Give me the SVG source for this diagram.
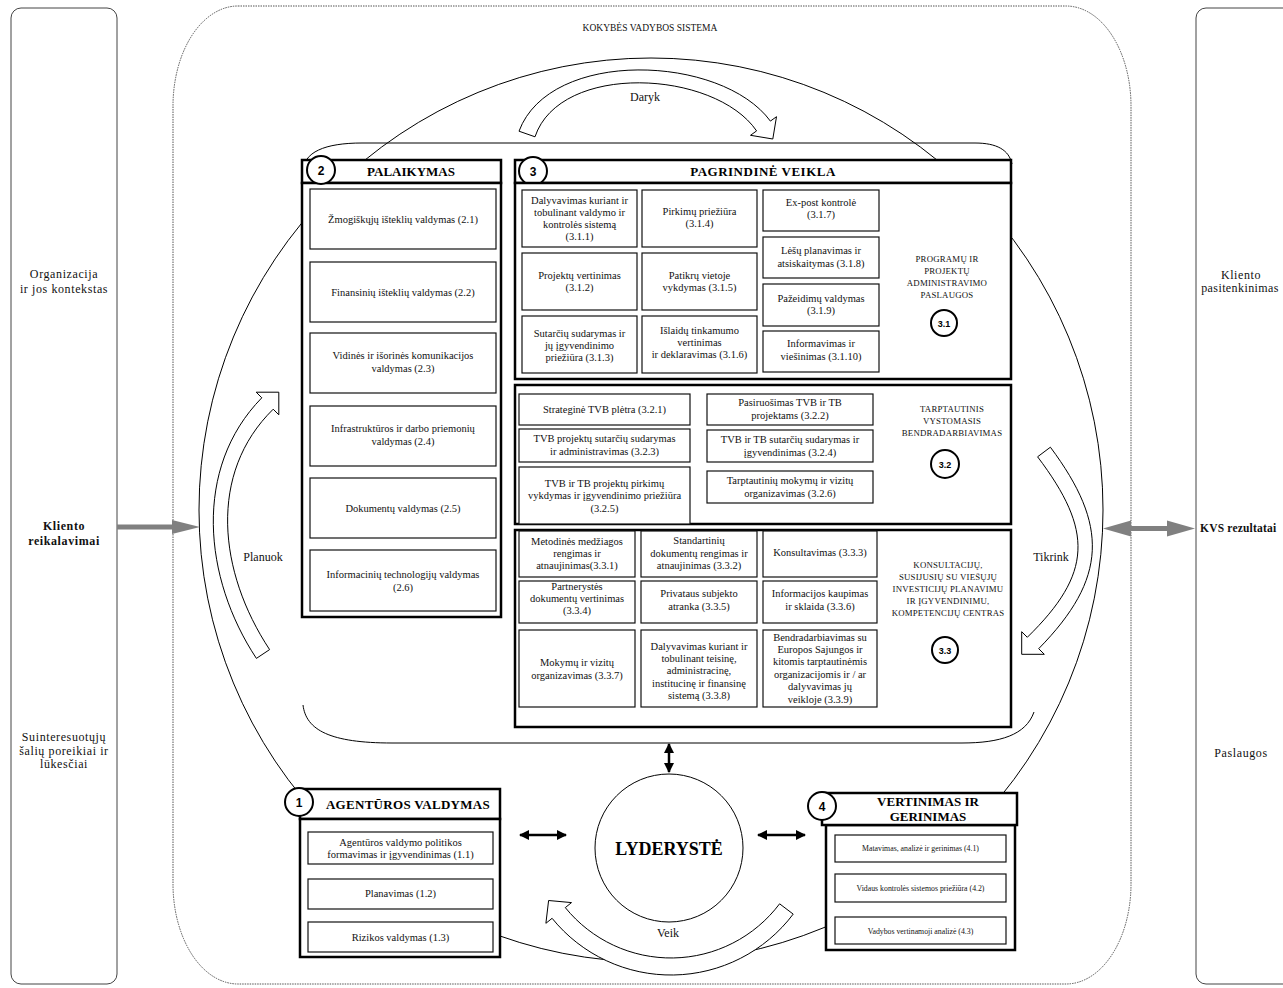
<svg xmlns="http://www.w3.org/2000/svg" width="1283" height="988" viewBox="0 0 1283 988">
<defs>
<style>
.t{font-family:"Liberation Serif","Times New Roman",serif;font-size:10.5px;fill:#111;text-anchor:middle}
.side{font-size:12px;letter-spacing:0.6px}
.h{font-weight:bold;font-size:13px;fill:#000}
.lab{font-size:8.8px;letter-spacing:0.2px}
.sm{font-size:7.8px}
.cl{font-size:12px}
.box{fill:#fff;stroke:#111;stroke-width:1.2}
.sec{fill:#fff;stroke:#000;stroke-width:2.5}
.nc{fill:#fff;stroke:#000;stroke-width:2}
.nt{font-family:"Liberation Sans",Arial,sans-serif;font-weight:bold;font-size:12px;text-anchor:middle;fill:#000}
.nts{font-size:9px}
.blk{fill:#fff;stroke:#000;stroke-width:1}
.thin{fill:none;stroke:#000;stroke-width:1}
.dbl{stroke:#000;stroke-width:2.5;fill:none;marker-start:url(#ah);marker-end:url(#ah)}
.gray{fill:#808080}
</style>
<marker id="ah" viewBox="0 0 10 10" refX="9" refY="5" markerWidth="10" markerHeight="10" markerUnits="userSpaceOnUse" orient="auto-start-reverse">
<path d="M0,0 L10,5 L0,10 z" fill="#000"/>
</marker>
</defs>
<rect width="1283" height="988" fill="#fff"/>

<!-- side panels -->
<g id="left-panel">
<rect x="11" y="8" width="106" height="976" rx="10" fill="#fff" stroke="#444" stroke-width="1"/>
<text class="t side" x="64" y="278">Organizacija</text>
<text class="t side" x="64" y="293">ir jos kontekstas</text>
<text class="t side" x="64" y="530" font-weight="bold">Kliento</text>
<text class="t side" x="64" y="545" font-weight="bold">reikalavimai</text>
<text class="t side" x="64" y="741">Suinteresuotųjų</text>
<text class="t side" x="64" y="755">šalių poreikiai ir</text>
<text class="t side" x="64" y="768">lūkesčiai</text>
</g>
<g id="right-panel">
<rect x="1196" y="8" width="110" height="976" rx="10" fill="#fff" stroke="#444" stroke-width="1"/>
<text class="t side" x="1241" y="279">Kliento</text>
<text class="t side" x="1240" y="292" style="letter-spacing:0.4px">pasitenkinimas</text>
<text class="t" x="1200" y="532" style="text-anchor:start;font-weight:bold;font-size:11.5px;letter-spacing:0.2px">KVS rezultatai</text>
<text class="t side" x="1241" y="757">Paslaugos</text>
</g>

<!-- KVS frame -->
<g id="kvs">
<path d="M238,6 H1066 A65,100 0 0 1 1131,106 V884 A65,100 0 0 1 1066,984 H238 A65,100 0 0 1 173,884 V106 A65,100 0 0 1 238,6 Z" fill="none" stroke="#555" stroke-width="1" stroke-dasharray="1.5,1"/>
<text class="t" x="650" y="31" style="font-size:9.5px">KOKYBĖS VADYBOS SISTEMA</text>
</g>

<!-- background cycle -->
<g id="cycle">
<circle cx="651" cy="510" r="452" class="thin"/>
<path d="M303,172 C303,152 325,143 362,143 H975 C997,143 1009,150 1012,164" class="thin"/>
<path d="M303,705 C306,730 330,743 392,743 H962 C1000,743 1026,735 1034,712" class="thin"/>
</g>

<g id="connectors">
<!-- Daryk -->
<path class="blk" d="M519,131.2 C550,48 721.4,54.4 770.4,121.1 L776.5,116.7 L772.8,139 L750.5,135.3 L756.6,130.9 C714.6,69.6 560,62 535,136.8 Z"/>
<!-- Planuok -->
<path class="blk" d="M256.4,658.4 C203.4,578.2 192.7,468.3 261.8,397.8 L256.2,392.2 L278.8,392.2 L278.8,414.8 L273.2,409.2 C207.9,473.1 218.2,571.8 269.6,649.6 Z"/>
<!-- Tikrink -->
<path class="blk" d="M1050.4,447.2 C1108.5,525.2 1107.8,578.2 1038.7,648.7 L1044.3,654.3 L1021.7,654.3 L1021.7,631.7 L1027.3,637.3 C1092.6,573.4 1093.5,530.8 1037.6,456.8 Z"/>
<!-- Veik -->
<path class="blk" d="M793.2,914.1 A153,153 0 0 1 552.1,918.3 L545.9,923.3 L548.6,900.5 L571.5,902.6 L565.3,907.6 A136,136 0 0 0 779.6,903.8 Z"/>
<!-- leadership arrows -->
<line class="dbl" x1="669" y1="744" x2="669" y2="772"/>
<line class="dbl" x1="520" y1="835" x2="566" y2="835"/>
<line class="dbl" x1="758" y1="835" x2="805" y2="835"/>
<!-- gray arrows -->
<rect class="gray" x="117" y="524.5" width="58" height="5"/>
<polygon class="gray" points="172,520 200,527 172,534"/>
<rect class="gray" x="1128" y="526" width="42" height="5"/>
<polygon class="gray" points="1131,520.5 1103,528.5 1131,536.5"/>
<polygon class="gray" points="1167,520.5 1195,528.5 1167,536.5"/>
</g>
<g id="cycle-labels">
<text class="t cl" x="645" y="101">Daryk</text>
<text class="t cl" x="263" y="561">Planuok</text>
<text class="t cl" x="1051" y="561">Tikrink</text>
<text class="t cl" x="668" y="937">Veik</text>
</g>

<!-- Section 2 -->
<g id="palaikymas">
<rect class="sec" x="302" y="160" width="199" height="23"/>
<rect class="sec" x="302" y="183" width="199" height="434"/>
<text class="t h" x="411" y="176">PALAIKYMAS</text>
<circle class="nc" cx="321" cy="170" r="14"/>
<text class="nt" x="321" y="174.5">2</text>
<rect class="box" x="310" y="189" width="186" height="60"/>
<text class="t" x="403" y="223">Žmogiškųjų išteklių valdymas (2.1)</text>
<rect class="box" x="310" y="262" width="186" height="60"/>
<text class="t" x="403" y="296">Finansinių išteklių valdymas (2.2)</text>
<rect class="box" x="310" y="333" width="186" height="60"/>
<text class="t" x="403" y="359">Vidinės ir išorinės komunikacijos</text>
<text class="t" x="403" y="372">valdymas (2.3)</text>
<rect class="box" x="310" y="406" width="186" height="60"/>
<text class="t" x="403" y="432">Infrastruktūros ir darbo priemonių</text>
<text class="t" x="403" y="445">valdymas (2.4)</text>
<rect class="box" x="310" y="478" width="186" height="60"/>
<text class="t" x="403" y="512">Dokumentų valdymas (2.5)</text>
<rect class="box" x="310" y="550" width="186" height="61"/>
<text class="t" x="403" y="578">Informacinių technologijų valdymas</text>
<text class="t" x="403" y="591">(2.6)</text>
</g>

<!-- Section 3 -->
<g id="pagrindine">
<rect class="sec" x="515" y="160" width="496" height="23"/>
<text class="t h" x="763" y="176" style="letter-spacing:0.5px">PAGRINDINĖ VEIKLA</text>
<circle class="nc" cx="533" cy="171" r="14"/>
<text class="nt" x="533" y="175.5">3</text>
</g>

<g id="s31">
<rect class="sec" x="515" y="183" width="496" height="196"/>
<rect class="box" x="522" y="190" width="115" height="57"/>
<text class="t" x="579.5" y="204">Dalyvavimas kuriant ir</text>
<text class="t" x="579.5" y="216">tobulinant valdymo ir</text>
<text class="t" x="579.5" y="228">kontrolės sistemą</text>
<text class="t" x="579.5" y="240">(3.1.1)</text>
<rect class="box" x="522" y="253" width="115" height="57"/>
<text class="t" x="579.5" y="279">Projektų vertinimas</text>
<text class="t" x="579.5" y="291">(3.1.2)</text>
<rect class="box" x="522" y="316" width="115" height="57"/>
<text class="t" x="579.5" y="337">Sutarčių sudarymas ir</text>
<text class="t" x="579.5" y="349">jų įgyvendinimo</text>
<text class="t" x="579.5" y="361">priežiūra (3.1.3)</text>
<rect class="box" x="642" y="190" width="115" height="57"/>
<text class="t" x="699.5" y="215">Pirkimų priežiūra</text>
<text class="t" x="699.5" y="227">(3.1.4)</text>
<rect class="box" x="642" y="253" width="115" height="57"/>
<text class="t" x="699.5" y="279">Patikrų vietoje</text>
<text class="t" x="699.5" y="291">vykdymas (3.1.5)</text>
<rect class="box" x="642" y="316" width="115" height="57"/>
<text class="t" x="699.5" y="334">Išlaidų tinkamumo</text>
<text class="t" x="699.5" y="346">vertinimas</text>
<text class="t" x="699.5" y="358">ir deklaravimas (3.1.6)</text>
<rect class="box" x="763" y="190" width="116" height="41"/>
<text class="t" x="821" y="206">Ex-post kontrolė</text>
<text class="t" x="821" y="218">(3.1.7)</text>
<rect class="box" x="763" y="237" width="116" height="41"/>
<text class="t" x="821" y="254">Lėšų planavimas ir</text>
<text class="t" x="821" y="267">atsiskaitymas  (3.1.8)</text>
<rect class="box" x="763" y="284" width="116" height="42"/>
<text class="t" x="821" y="302">Pažeidimų valdymas</text>
<text class="t" x="821" y="314">(3.1.9)</text>
<rect class="box" x="763" y="331" width="116" height="41"/>
<text class="t" x="821" y="347">Informavimas ir</text>
<text class="t" x="821" y="360">viešinimas (3.1.10)</text>
<text class="t lab" x="947" y="262">PROGRAMŲ IR</text>
<text class="t lab" x="947" y="274">PROJEKTŲ</text>
<text class="t lab" x="947" y="286">ADMINISTRAVIMO</text>
<text class="t lab" x="947" y="298">PASLAUGOS</text>
<circle class="nc" cx="944" cy="323" r="13"/>
<text class="nt nts" x="944" y="326.5">3.1</text>
</g>

<g id="s32">
<rect class="sec" x="515" y="385" width="496" height="139"/>
<rect class="box" x="519" y="394" width="171" height="31"/>
<text class="t" x="604.5" y="413">Strateginė TVB plėtra (3.2.1)</text>
<rect class="box" x="519" y="429" width="171" height="33"/>
<text class="t" x="604.5" y="442">TVB projektų sutarčių sudarymas</text>
<text class="t" x="604.5" y="455">ir administravimas (3.2.3)</text>
<rect class="box" x="519" y="467" width="171" height="57"/>
<text class="t" x="604.5" y="487">TVB ir TB  projektų pirkimų</text>
<text class="t" x="604.5" y="499">vykdymas ir įgyvendinimo priežiūra</text>
<text class="t" x="604.5" y="512">(3.2.5)</text>
<rect class="box" x="707" y="394" width="166" height="31"/>
<text class="t" x="790" y="406">Pasiruošimas TVB ir TB</text>
<text class="t" x="790" y="419">projektams (3.2.2)</text>
<rect class="box" x="707" y="430" width="166" height="32"/>
<text class="t" x="790" y="443">TVB ir TB sutarčių sudarymas ir</text>
<text class="t" x="790" y="456">įgyvendinimas (3.2.4)</text>
<rect class="box" x="707" y="471" width="166" height="32"/>
<text class="t" x="790" y="484">Tarptautinių mokymų ir vizitų</text>
<text class="t" x="790" y="497">organizavimas (3.2.6)</text>
<text class="t lab" x="952" y="412">TARPTAUTINIS</text>
<text class="t lab" x="952" y="424">VYSTOMASIS</text>
<text class="t lab" x="952" y="436">BENDRADARBIAVIMAS</text>
<circle class="nc" cx="945" cy="464" r="14"/>
<text class="nt nts" x="945" y="467.5">3.2</text>
</g>

<g id="s33">
<rect class="sec" x="515" y="530" width="496" height="197"/>
<rect class="box" x="519" y="531" width="116" height="46"/>
<text class="t" x="577" y="545">Metodinės medžiagos</text>
<text class="t" x="577" y="557">rengimas ir</text>
<text class="t" x="577" y="569">atnaujinimas(3.3.1)</text>
<rect class="box" x="519" y="581" width="116" height="42"/>
<text class="t" x="577" y="590">Partnerystės</text>
<text class="t" x="577" y="602">dokumentų vertinimas</text>
<text class="t" x="577" y="614">(3.3.4)</text>
<rect class="box" x="519" y="630" width="116" height="77"/>
<text class="t" x="577" y="666">Mokymų ir vizitų</text>
<text class="t" x="577" y="679">organizavimas (3.3.7)</text>
<rect class="box" x="641" y="531" width="116" height="46"/>
<text class="t" x="699" y="544">Standartinių</text>
<text class="t" x="699" y="557">dokumentų rengimas ir</text>
<text class="t" x="699" y="569">atnaujinimas (3.3.2)</text>
<rect class="box" x="641" y="581" width="116" height="42"/>
<text class="t" x="699" y="597">Privataus subjekto</text>
<text class="t" x="699" y="610">atranka  (3.3.5)</text>
<rect class="box" x="641" y="630" width="116" height="77"/>
<text class="t" x="699" y="650">Dalyvavimas kuriant ir</text>
<text class="t" x="699" y="662">tobulinant teisinę,</text>
<text class="t" x="699" y="674">administracinę,</text>
<text class="t" x="699" y="687">institucinę ir finansinę</text>
<text class="t" x="699" y="699">sistemą  (3.3.8)</text>
<rect class="box" x="763" y="531" width="114" height="46"/>
<text class="t" x="820" y="556">Konsultavimas (3.3.3)</text>
<rect class="box" x="763" y="581" width="114" height="42"/>
<text class="t" x="820" y="597">Informacijos kaupimas</text>
<text class="t" x="820" y="610">ir sklaida (3.3.6)</text>
<rect class="box" x="763" y="630" width="114" height="77"/>
<text class="t" x="820" y="641">Bendradarbiavimas su</text>
<text class="t" x="820" y="653">Europos Sajungos ir</text>
<text class="t" x="820" y="665">kitomis tarptautinėmis</text>
<text class="t" x="820" y="678">organizacijomis ir / ar</text>
<text class="t" x="820" y="690">dalyvavimas jų</text>
<text class="t" x="820" y="703">veikloje   (3.3.9)</text>
<text class="t lab" x="948" y="568">KONSULTACIJŲ,</text>
<text class="t lab" x="948" y="580">SUSIJUSIŲ SU VIEŠŲJŲ</text>
<text class="t lab" x="948" y="592">INVESTICIJŲ PLANAVIMU</text>
<text class="t lab" x="948" y="604">IR ĮGYVENDINIMU,</text>
<text class="t lab" x="948" y="616">KOMPETENCIJŲ CENTRAS</text>
<circle class="nc" cx="945" cy="650" r="13"/>
<text class="nt nts" x="945" y="653.5">3.3</text>
</g>

<!-- Section 1 -->
<g id="agenturos">
<rect class="sec" x="300" y="789" width="200" height="30"/>
<rect class="sec" x="300" y="819" width="200" height="138"/>
<text class="t h" x="408" y="809" style="letter-spacing:0.3px">AGENTŪROS VALDYMAS</text>
<circle class="nc" cx="299" cy="802" r="14"/>
<text class="nt" x="299" y="806.5">1</text>
<rect class="box" x="308" y="832" width="185" height="32"/>
<text class="t" x="400.5" y="846">Agentūros valdymo politikos</text>
<text class="t" x="400.5" y="858">formavimas ir įgyvendinimas  (1.1)</text>
<rect class="box" x="308" y="879" width="185" height="30"/>
<text class="t" x="400.5" y="897">Planavimas (1.2)</text>
<rect class="box" x="308" y="922" width="185" height="30"/>
<text class="t" x="400.5" y="941">Rizikos valdymas (1.3)</text>
</g>

<!-- Section 4 -->
<g id="vertinimas">
<rect class="sec" x="826" y="825" width="189" height="125"/>
<rect class="sec" x="822" y="793" width="195" height="32"/>
<text class="t h" x="928" y="806">VERTINIMAS IR</text>
<text class="t h" x="928" y="821">GERINIMAS</text>
<circle class="nc" cx="822" cy="806" r="14"/>
<text class="nt" x="822" y="810.5">4</text>
<rect class="box" x="835" y="835" width="171" height="27"/>
<text class="t sm" x="920.5" y="851">Matavimas, analizė ir gerinimas (4.1)</text>
<rect class="box" x="835" y="874" width="171" height="28"/>
<text class="t sm" x="920.5" y="891">Vidaus kontrolės sistemos priežiūra (4.2)</text>
<rect class="box" x="835" y="917" width="171" height="27"/>
<text class="t sm" x="920.5" y="934">Vadybos vertinamoji analizė (4.3)</text>
</g>

<!-- Leadership -->
<g id="lyderyste">
<circle cx="669" cy="848" r="74" fill="#fff" stroke="#000" stroke-width="1"/>
<text class="t" x="669" y="855" style="font-size:18px;font-weight:bold;fill:#000">LYDERYSTĖ</text>
</g>
</svg>
